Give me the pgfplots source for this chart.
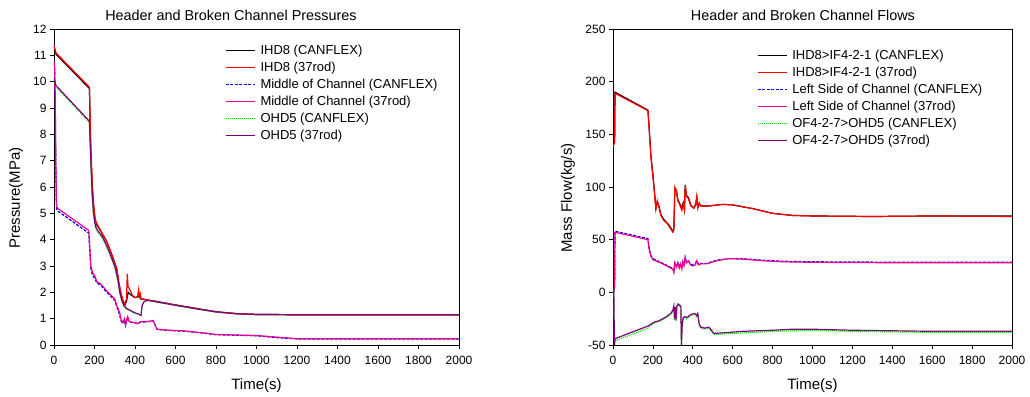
\documentclass[border=0pt]{standalone}
\usepackage{fontspec}
\setmainfont{Liberation Sans}
\usepackage{pgfplots}
\pgfplotsset{compat=1.18}
\definecolor{lgreen}{RGB}{0,230,0}
\definecolor{purp}{RGB}{128,0,128}
\pgfplotsset{
  myaxis/.style={
    scale only axis,
    axis line style={line width=0.8pt},
    tick style={line width=0.8pt,black},
    tick align=outside,
    major tick length=4pt,
    xtick pos=bottom, ytick pos=left,
    xmin=0,xmax=2000,
    xtick={0,200,400,600,800,1000,1200,1400,1600,1800,2000},
    xticklabels={0,200,400,600,800,1000,1200,1400,1600,1800,2000},
    ticklabel style={font=\fontsize{12}{14}\selectfont},
    xticklabel style={yshift=-4pt},
    /pgf/number format/assume math mode=true,
    label style={font=\fontsize{15}{17}\selectfont},
    xlabel={Time(s)},
    xlabel style={at={(axis description cs:0.5,-0.127)},anchor=center},
    title style={font=\fontsize{14.4}{16}\selectfont,anchor=center,yshift=8pt},
    legend cell align=left,
    legend style={draw=none,fill=none,font=\fontsize{13}{15}\selectfont,
      nodes={inner sep=1pt,text height=10pt,text depth=3pt},row sep=2pt,anchor=north west},
    legend image code/.code={\draw[#1,line width=1.3pt] (0pt,0pt) -- (29pt,0pt); \path (33pt,0pt);},
    every axis plot/.append style={line width=1.2pt},
  }
}
\begin{document}
\begin{tikzpicture}
\path (0,0) rectangle (1030pt,396pt);
\begin{axis}[myaxis,
  at={(54pt,51pt)},anchor=south west,
  width=405pt,height=316pt,
  ymin=0,ymax=12,
  ytick={0,1,2,3,4,5,6,7,8,9,10,11,12},
  yticklabels={0,1,2,3,4,5,6,7,8,9,10,11,12},
  ylabel={Pressure(MPa)},
  ylabel style={at={(axis description cs:-0.094,0.465)},anchor=center},
  title={Header and Broken Channel Pressures},
  title style={at={(0.437,1)}},
  legend style={at={(0.415,0.962)}},
]
\addplot[black] coordinates {(0,11.32) (5,11.18) (10,11.04) (175,9.74) (178,8.6) (182,7.3) (188,6.1) (195,5.3) (203,4.75) (212,4.55) (230,4.33) (260,3.93) (290,3.33) (310,2.88) (320,2.35) (330,1.95) (340,1.68) (350,1.52) (358,1.65) (366,2.0) (380,1.9) (400,1.8) (420,1.85) (430,1.75) (440,1.74) (460,1.71) (500,1.66) (600,1.52) (700,1.39) (800,1.26) (900,1.19) (1000,1.16) (1200,1.15) (1600,1.15) (2000,1.15)};
\addlegendentry{IHD8 (CANFLEX)}
\addplot[red] coordinates {(0,11.37) (5,11.23) (10,11.09) (175,9.79) (178,8.8) (182,7.5) (188,6.3) (195,5.4) (203,4.8) (212,4.6) (230,4.35) (260,3.95) (290,3.35) (310,2.9) (320,2.4) (330,2.0) (340,1.7) (350,1.55) (358,1.75) (362,2.7) (366,2.2) (372,2.15) (380,2.0) (390,1.85) (400,1.8) (412,1.8) (418,2.1) (422,1.85) (426,1.95) (430,1.75) (440,1.75) (460,1.71) (500,1.66) (600,1.52) (700,1.39) (800,1.26) (900,1.19) (1000,1.16) (1200,1.15) (2000,1.15)};
\addlegendentry{IHD8 (37rod)}
\addplot[blue,dash pattern=on 3pt off 1.5pt] coordinates {(0,10.7) (3,10.5) (6,9.3) (9,6.8) (12,5.2) (16,5.1) (172,4.25) (176,3.7) (182,2.9) (190,2.65) (200,2.55) (212,2.35) (230,2.28) (255,2.05) (280,1.85) (300,1.7) (310,1.45) (318,1.3) (325,1.1) (332,0.9) (340,0.82) (348,0.95) (353,0.75) (358,0.9) (364,1.05) (370,0.9) (380,0.86) (400,0.84) (415,0.8) (425,0.87) (440,0.87) (470,0.89) (490,0.92) (500,0.74) (508,0.6) (550,0.56) (650,0.52) (750,0.44) (800,0.39) (900,0.37) (1000,0.35) (1100,0.28) (1200,0.23) (1400,0.23) (2000,0.23)};
\addlegendentry{Middle of Channel (CANFLEX)}
\addplot[magenta] coordinates {(0,10.75) (3,10.6) (6,9.5) (9,7.0) (12,5.4) (16,5.2) (172,4.35) (176,3.8) (182,3.0) (190,2.75) (200,2.65) (212,2.4) (230,2.33) (255,2.1) (280,1.9) (300,1.75) (310,1.5) (318,1.35) (325,1.2) (332,0.95) (340,0.85) (348,1.0) (353,0.75) (358,0.95) (364,1.08) (370,0.92) (380,0.87) (400,0.85) (415,0.82) (425,0.88) (440,0.88) (470,0.9) (490,0.93) (500,0.75) (508,0.6) (550,0.57) (650,0.53) (750,0.45) (800,0.4) (900,0.38) (1000,0.36) (1100,0.3) (1200,0.24) (1400,0.24) (2000,0.24)};
\addlegendentry{Middle of Channel (37rod)}
\addplot[lgreen,dash pattern=on 1pt off 1pt] coordinates {(0,10.05) (5,9.95) (10,9.8) (175,8.45) (178,7.7) (183,6.7) (188,5.7) (195,4.95) (205,4.45) (215,4.3) (240,4.05) (270,3.55) (300,2.95) (315,2.45) (325,1.95) (335,1.65) (345,1.45) (360,1.35) (380,1.28) (400,1.2) (420,1.15) (430,1.12) (435,1.5) (445,1.64) (460,1.69) (500,1.64) (600,1.5) (700,1.37) (800,1.25) (900,1.18) (1000,1.15) (1200,1.14) (2000,1.14)};
\addlegendentry{OHD5 (CANFLEX)}
\addplot[purp] coordinates {(0,10.1) (5,10.0) (10,9.85) (175,8.5) (178,7.8) (183,6.8) (188,5.8) (195,5.0) (205,4.5) (215,4.35) (240,4.1) (270,3.6) (300,3.0) (315,2.5) (325,2.0) (335,1.7) (345,1.5) (360,1.38) (380,1.3) (400,1.22) (420,1.17) (430,1.12) (435,1.5) (445,1.65) (460,1.7) (500,1.65) (600,1.51) (700,1.38) (800,1.26) (900,1.19) (1000,1.16) (1200,1.15) (2000,1.15)};
\addlegendentry{OHD5 (37rod)}
\end{axis}
\begin{axis}[myaxis,
  at={(613pt,51pt)},anchor=south west,
  width=399pt,height=316pt,
  ymin=-50,ymax=250,
  ytick={-50,0,50,100,150,200,250},
  yticklabels={-50,0,50,100,150,200,250},
  ylabel={Mass Flow(kg/s)},
  ylabel style={at={(axis description cs:-0.113,0.465)},anchor=center},
  title={Header and Broken Channel Flows},
  title style={at={(0.476,1)}},
  legend style={at={(0.353,0.946)}},
]
\addplot[black] coordinates {(0,140) (8,142) (10,190) (175,173) (180,160) (190,130) (200,112) (208,95) (215,80) (222,86) (230,82) (240,74) (255,69) (270,66) (280,64) (290,61) (300,58) (305,60) (310,98) (318,97) (325,88) (335,84) (345,80) (352,85) (358,79) (362,102) (368,92) (378,90) (390,83) (405,80) (415,84) (420,90) (425,81) (432,84) (440,82) (480,82) (550,83.5) (600,83) (700,79.5) (800,75) (900,73) (1000,72.5) (1300,72) (1600,72.5) (2000,72.5)};
\addlegendentry{IHD8>IF4-2-1 (CANFLEX)}
\addplot[red] coordinates {(0,138) (8,142) (10,189) (175,172.5) (180,159) (190,128) (200,110) (208,94) (215,79) (222,87) (230,81) (240,73) (255,68) (270,66) (280,63) (290,60) (300,57) (305,59) (310,100) (318,96) (325,87) (335,83) (345,78) (352,84) (358,78) (362,102) (368,91) (378,89) (390,82) (405,80) (415,83) (420,91) (425,80) (432,85) (440,82) (480,82) (550,83.5) (600,83) (700,79.5) (800,75) (900,73) (1000,72.5) (1300,72) (1600,72.5) (2000,72)};
\addlegendentry{IHD8>IF4-2-1 (37rod)}
\addplot[blue,dash pattern=on 3pt off 1.5pt] coordinates {(0,-1) (5,1) (8,4) (10,58) (175,51) (182,41) (190,35) (200,32) (220,30) (250,27.5) (280,24.5) (300,22.5) (305,20) (310,28) (318,25) (325,28) (332,24) (338,27) (345,23) (350,29) (356,26) (362,33) (368,29) (378,30) (388,27) (400,26) (412,27) (420,30) (428,27) (440,27.5) (470,27.5) (520,30.5) (580,32) (650,32) (750,30.5) (850,29.5) (1000,29) (1500,28.5) (2000,28.5)};
\addlegendentry{Left Side of Channel (CANFLEX)}
\addplot[magenta] coordinates {(0,0) (5,2) (8,5) (10,57) (175,50) (182,40) (190,34) (200,31) (220,29.5) (250,27) (280,24) (300,22) (305,19) (310,28) (318,24) (325,28) (332,23) (338,27) (345,22) (350,29) (356,25) (362,33) (368,28) (378,30) (388,26) (400,25) (412,26) (420,30) (428,26) (440,27) (470,27) (520,30) (580,32) (650,31.5) (750,30) (850,29) (1000,28.5) (1500,28) (2000,28)};
\addlegendentry{Left Side of Channel (37rod)}
\addplot[lgreen,dash pattern=on 1pt off 1pt] coordinates {(0,0) (4,3) (7,-50) (10,-46) (175,-34) (185,-32) (200,-30) (210,-29) (230,-28) (260,-25) (290,-21) (300,-18) (305,-14) (308,-26) (312,-15) (316,-27) (320,-14) (326,-12) (332,-13) (340,-14) (343,-50) (347,-31) (352,-25) (360,-24) (370,-25) (390,-22) (410,-21) (420,-23) (425,-21) (432,-31) (440,-34) (460,-35) (480,-34) (490,-36) (505,-40) (600,-39) (800,-37) (1000,-36) (1200,-37) (1600,-38) (2000,-38)};
\addlegendentry{OF4-2-7>OHD5 (CANFLEX)}
\addplot[purp] coordinates {(0,0) (4,4) (7,-50) (10,-44) (175,-32) (185,-31) (200,-29) (210,-28) (230,-27) (260,-24) (290,-20) (300,-17) (305,-13) (308,-25) (312,-14) (316,-26) (320,-13) (326,-11) (332,-12) (340,-13) (343,-50) (347,-30) (352,-24) (360,-23) (370,-24) (390,-21) (410,-20) (420,-22) (425,-20) (432,-30) (440,-33) (460,-34) (480,-33) (490,-35) (505,-39) (550,-38.5) (650,-37) (800,-36) (900,-35) (1000,-35) (1200,-36) (1600,-37) (2000,-37)};
\addlegendentry{OF4-2-7>OHD5 (37rod)}
\end{axis}
\end{tikzpicture}
\end{document}
